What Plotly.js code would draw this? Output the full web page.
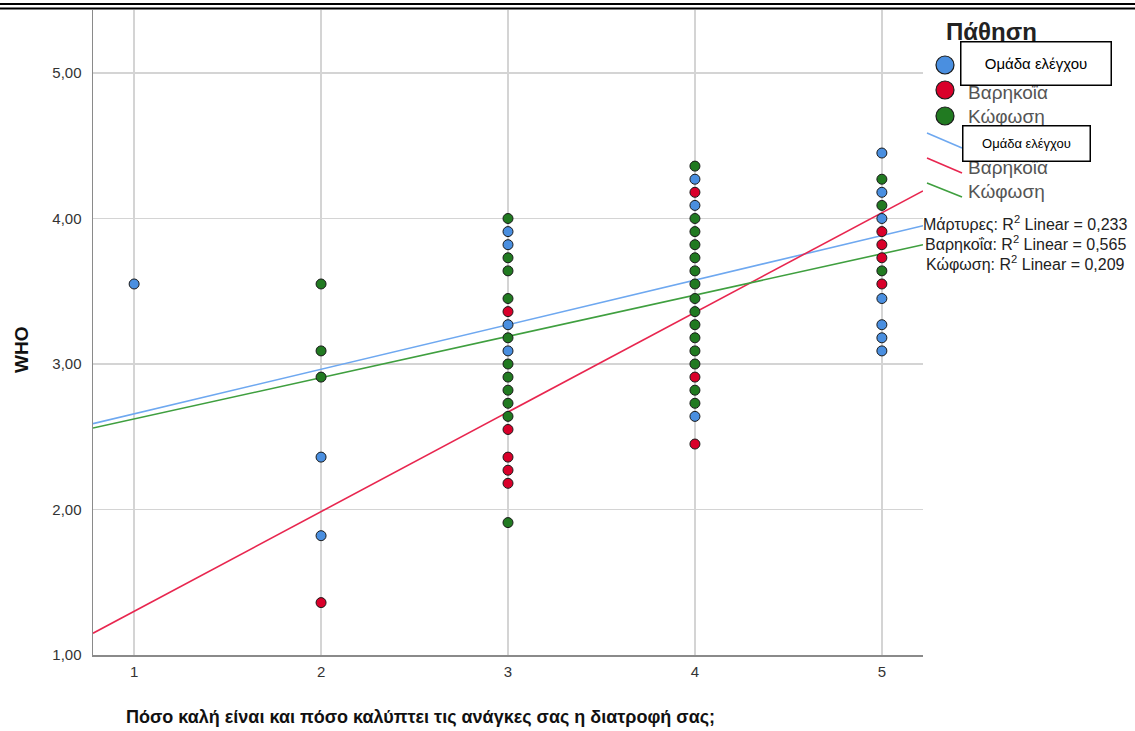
<!DOCTYPE html>
<html>
<head>
<meta charset="utf-8">
<script src="https://cdn.plot.ly/plotly-3.0.1.min.js"></script>
<style>html,body{margin:0;padding:0;background:#fff;}#chart{width:1135px;height:731px;}</style>
</head>
<body>
<div id="chart"></div>
<script>
// ---- data ----
var groupNames = ["Ομάδα ελέγχου", "Βαρηκοΐα", "Κώφωση"];
var controlX = [1, 2, 2, 3, 3, 3, 3, 4, 4, 4, 5, 5, 5, 5, 5, 5, 5];
var controlY = [3.55, 2.36, 1.82, 3.91, 3.82, 3.27, 3.09, 4.27, 4.09, 2.64, 4.45, 4.18, 4.00, 3.45, 3.27, 3.18, 3.09];
var hardX = [2, 3, 3, 3, 3, 3, 4, 4, 4, 5, 5, 5, 5];
var hardY = [1.36, 3.36, 2.55, 2.36, 2.27, 2.18, 4.18, 2.91, 2.45, 3.91, 3.82, 3.73, 3.55];
var deafX = [2, 2, 2, 3, 3, 3, 3, 3, 3, 3, 3, 3, 3, 3, 4, 4, 4, 4, 4, 4, 4, 4, 4, 4, 4, 4, 4, 4, 4, 5, 5, 5];
var deafY = [3.55, 3.09, 2.91, 4.00, 3.73, 3.64, 3.45, 3.18, 3.00, 2.91, 2.82, 2.73, 2.64, 1.91,
             4.36, 4.00, 3.91, 3.82, 3.73, 3.64, 3.55, 3.45, 3.36, 3.27, 3.18, 3.09, 3.00, 2.82, 2.73,
             4.27, 4.09, 3.64];
// fit lines (value at the left and right ends of the x range)
var fitX = [0.78, 5.22];
var controlFit = [2.59, 3.95];
var hardFit = [1.15, 4.19];
var deafFit = [2.56, 3.82];
var r2Labels = ["Μάρτυρες: R<sup>2</sup> Linear = 0,233", "Βαρηκοΐα: R<sup>2</sup> Linear = 0,565", "Κώφωση: R<sup>2</sup> Linear = 0,209"];
var xTicks = [1, 2, 3, 4, 5];
var yTicks = [1, 2, 3, 4, 5];
var xTitle = "Πόσο καλή είναι και πόσο καλύπτει τις ανάγκες σας η διατροφή σας;";
var yTitle = "WHO";
var legendTitle = "Πάθηση";

// ---- styling ----
var FONT = "Liberation Sans, Arial, sans-serif";
var cBlue = "#4a8fe0", cRed = "#d9002a", cGreen = "#217a21";
var lBlue = "#6ea8f0", lRed = "#e8264f", lGreen = "#3f9f3f";

var L = 93, R = 212, T = 10, B = 76, W = 1135, H = 731;
var PW = W - L - R, PH = H - T - B;
function px(X) { return (X - L) / PW; }
function py(Y) { return (H - B - Y) / PH; }

function pts(x, y, c) {
  return {x: x, y: y, type: "scatter", mode: "markers", showlegend: false,
    marker: {size: 10, color: c, line: {color: "#1a1a1a", width: 1}}};
}
function fit(y, c) {
  return {x: fitX, y: y, type: "scatter", mode: "lines", showlegend: false,
    line: {color: c, width: 1.6}};
}

var data = [
  fit(controlFit, lBlue), fit(hardFit, lRed), fit(deafFit, lGreen),
  pts(controlX, controlY, cBlue), pts(hardX, hardY, cRed), pts(deafX, deafY, cGreen)
];

var shapes = [
  {type: "line", xref: "paper", yref: "paper", x0: px(0), x1: px(W), y0: py(4), y1: py(4), line: {color: "#000", width: 2.2}},
  {type: "line", xref: "paper", yref: "paper", x0: px(0), x1: px(W), y0: py(8.5), y1: py(8.5), line: {color: "#000", width: 2.2}},
  // legend circles
  {type: "circle", xref: "paper", yref: "paper", x0: px(936), x1: px(954), y0: py(56), y1: py(74), fillcolor: cBlue, line: {color: "#1a1a1a", width: 1.2}},
  {type: "circle", xref: "paper", yref: "paper", x0: px(936), x1: px(954), y0: py(81), y1: py(99), fillcolor: cRed, line: {color: "#1a1a1a", width: 1.2}},
  {type: "circle", xref: "paper", yref: "paper", x0: px(936), x1: px(954), y0: py(107), y1: py(125), fillcolor: cGreen, line: {color: "#1a1a1a", width: 1.2}},
  // legend line symbols
  {type: "line", xref: "paper", yref: "paper", x0: px(927), x1: px(962), y0: py(133), y1: py(148), line: {color: lBlue, width: 1.6}},
  {type: "line", xref: "paper", yref: "paper", x0: px(927), x1: px(962), y0: py(158), y1: py(173), line: {color: lRed, width: 1.6}},
  {type: "line", xref: "paper", yref: "paper", x0: px(927), x1: px(962), y0: py(183), y1: py(197), line: {color: lGreen, width: 1.6}}
];

function ann(X, Y, text, opts) {
  var a = {xref: "paper", yref: "paper", x: px(X), y: py(Y), text: text, showarrow: false,
    xanchor: "left", yanchor: "middle", font: {family: FONT, size: 13, color: "#222"}};
  for (var k in opts) a[k] = opts[k];
  return a;
}

var annotations = [
  ann(944, 32, "<b>" + legendTitle + "</b>", {font: {family: FONT, size: 24, color: "#222"}}),
  ann(966, 93, groupNames[1], {font: {family: FONT, size: 19, color: "#555"}}),
  ann(966, 117, groupNames[2], {font: {family: FONT, size: 19, color: "#555"}}),
  ann(966, 168, groupNames[1], {font: {family: FONT, size: 19, color: "#555"}}),
  ann(966, 192, groupNames[2], {font: {family: FONT, size: 19, color: "#555"}}),
  ann(1025, 223, r2Labels[0], {xanchor: "center", font: {family: FONT, size: 16, color: "#222"}}),
  ann(1025, 243, r2Labels[1], {xanchor: "center", font: {family: FONT, size: 16, color: "#222"}}),
  ann(1025, 263, r2Labels[2], {xanchor: "center", font: {family: FONT, size: 16, color: "#222"}}),
  ann(420, 717, "<b>" + xTitle + "</b>", {xanchor: "center", font: {family: FONT, size: 18, color: "#111"}}),
  ann(21, 350, "<b>" + yTitle + "</b>", {xanchor: "center", textangle: -90, font: {family: FONT, size: 19, color: "#111"}}),
  // overlay boxes
  ann(1035.5, 64, groupNames[0], {xanchor: "center", width: 149, height: 42, bgcolor: "#fff", bordercolor: "#000", borderwidth: 1.5, borderpad: 0, font: {family: FONT, size: 15, color: "#000"}}),
  ann(1026, 143, groupNames[0], {xanchor: "center", width: 126, height: 34, bgcolor: "#fff", bordercolor: "#000", borderwidth: 1.5, borderpad: 0, font: {family: FONT, size: 13, color: "#000"}})
];

var layout = {
  width: W, height: H,
  margin: {l: L, r: R, t: T, b: B, pad: 0},
  paper_bgcolor: "#fff", plot_bgcolor: "#fff",
  separators: ",.",
  font: {family: FONT, size: 15, color: "#333"},
  showlegend: false,
  xaxis: {range: [fitX[0], fitX[1]], tickvals: xTicks, ticktext: xTicks.map(String),
    showgrid: true, gridcolor: "#d4d4d4", gridwidth: 1.6, zeroline: false,
    showline: true, linecolor: "#8a8a8a", linewidth: 1.5, ticks: "", ticklabelstandoff: 2,
    tickfont: {family: FONT, size: 15, color: "#333"}},
  yaxis: {range: [1, 5.433], tickvals: yTicks, tickformat: ".2f",
    showgrid: true, gridcolor: "#d4d4d4", gridwidth: 1.6, zeroline: false,
    showline: true, linecolor: "#8a8a8a", linewidth: 1.5, ticks: "", ticklabelstandoff: 7,
    tickfont: {family: FONT, size: 15, color: "#333"}},
  shapes: shapes,
  annotations: annotations
};

Plotly.newPlot("chart", data, layout, {staticPlot: true, displayModeBar: false});
</script>
</body>
</html>
